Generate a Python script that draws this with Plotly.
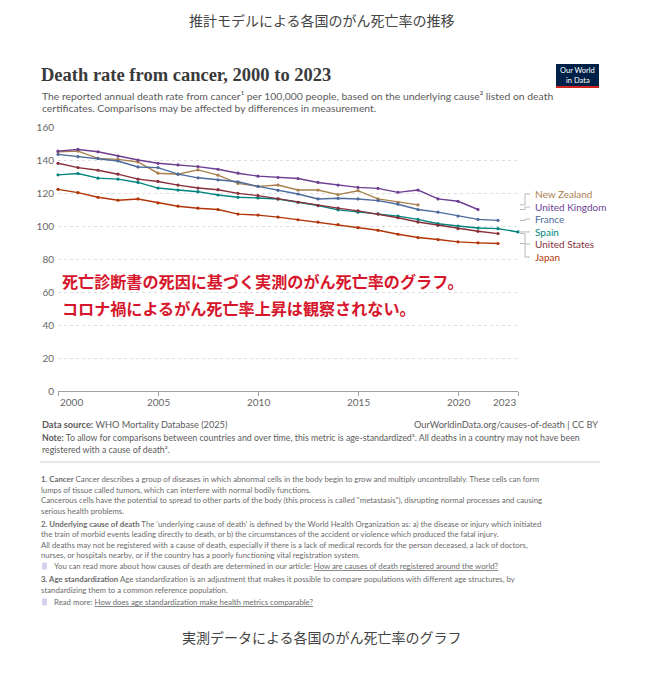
import plotly.graph_objects as go

# ---------------- data ----------------
years = list(range(2000, 2024))

countries = ["New Zealand", "United Kingdom", "France", "Spain", "United States", "Japan"]

new_zealand = [145.0, 145.4, 141.0, 140.4, 138.8, 132.0, 131.4, 134.0, 130.8, 125.8, 124.0, 124.8,
               121.8, 121.8, 119.0, 121.4, 116.4, 114.4, 112.8]
united_kingdom = [145.4, 146.4, 145.0, 142.4, 140.0, 138.0, 137.0, 136.0, 134.4, 132.0, 130.2, 129.4,
                  128.8, 126.4, 124.8, 123.4, 122.8, 120.4, 121.8, 116.4, 115.0, 110.0]
france = [143.4, 142.0, 141.0, 139.4, 135.8, 135.4, 131.4, 129.2, 128.0, 126.8, 124.0, 121.6,
          119.4, 116.4, 116.8, 116.4, 115.4, 113.2, 110.0, 108.4, 106.0, 104.0, 103.4]
spain = [131.0, 131.8, 129.0, 128.4, 126.4, 123.0, 121.8, 120.8, 118.8, 117.4, 117.0, 116.4,
         114.4, 112.4, 109.8, 108.4, 107.4, 106.0, 104.0, 101.4, 100.0, 98.8, 98.4, 96.4]
united_states = [138.0, 135.4, 133.8, 131.4, 128.4, 127.0, 124.8, 123.0, 122.0, 119.8, 118.4, 116.4,
                 114.4, 112.4, 110.8, 109.2, 107.2, 105.0, 102.4, 100.4, 98.4, 96.8, 95.4]
japan = [122.2, 120.2, 117.4, 115.6, 116.4, 114.0, 112.0, 110.8, 110.0, 107.2, 106.6, 105.4,
         103.8, 102.4, 100.8, 99.0, 97.4, 95.0, 93.0, 91.8, 90.4, 89.8, 89.4]

series = [new_zealand, united_kingdom, france, spain, united_states, japan]

x_tick_values = [2000, 2005, 2010, 2015, 2020, 2023]
x_tick_labels = ["2000", "2005", "2010", "2015", "2020", "2023"]
y_tick_values = [0, 20, 40, 60, 80, 100, 120, 140, 160]
y_tick_labels = ["0", "20", "40", "60", "80", "100", "120", "140", "160"]

# ---------------- styles / layout positions ----------------
colors = ["#A8814F", "#6D3E91", "#4C6A9C", "#00847E", "#883039", "#B13507"]
label_y = [119.4, 111.5, 104.2, 96.4, 89.1, 81.2]  # legend label placement (axis units)

OFF = 8  # page body margin offset
W, H = 645 - OFF, 680 - OFF
L, R, T, B = 58, 518, 127, 391  # in window pixels


def px(x, y):
    return (x - L) / (R - L), (B - y) / (B - T)


fig = go.Figure()
for name, vals, col in zip(countries, series, colors):
    fig.add_trace(go.Scatter(
        x=years[:len(vals)], y=vals, mode="lines+markers", name=name,
        line=dict(color=col, width=1.4), marker=dict(color=col, size=3.2),
        cliponaxis=False, showlegend=False,
    ))

ann = []
shapes = []

# legend labels + connectors
for name, vals, col, ly in zip(countries, series, colors, label_y):
    ann.append(dict(xref="paper", yref="y", x=px(533, 0)[0], y=ly, text=name,
                    showarrow=False, xanchor="left", yanchor="middle",
                    font=dict(family="Lato", size=10, color=col)))
    x0 = px(520, 0)[0]
    x1 = px(525, 0)[0]
    x2 = px(530, 0)[0]
    shapes.append(dict(type="path", xref="paper", yref="y",
                       path=f"M {x0} {vals[-1]} L {x1} {vals[-1]} L {x1} {ly} L {x2} {ly}",
                       line=dict(color="#b8b8b8", width=1)))

# x tick labels
for i, (tv, tl) in enumerate(zip(x_tick_values, x_tick_labels)):
    anchor = "left" if i == 0 else ("right" if i == len(x_tick_values) - 1 else "center")
    ann.append(dict(xref="x", yref="paper", x=tv, y=px(0, 402)[1], text=tl, showarrow=False,
                    xanchor=anchor, yanchor="middle",
                    font=dict(family="Lato", size=10, color="#666666")))


def text(x, y, s, size, color, family="Lato", xanchor="left"):
    xp, yp = px(x, y)
    ann.append(dict(xref="paper", yref="paper", x=xp, y=yp, text=s, showarrow=False,
                    xanchor=xanchor, yanchor="middle", align="left",
                    font=dict(family=family, size=size, color=color)))


JP = "Noto Sans CJK JP"
text(322, 20, "推計モデルによる各国のがん死亡率の推移", 14, "#444444", JP, "center")
text(322, 637, "実測データによる各国のがん死亡率のグラフ", 14, "#444444", JP, "center")

text(39, 75, "<b>Death rate from cancer, 2000 to 2023</b>", 18.5, "#3a3a3a", "Liberation Serif")
text(40, 96, "The reported annual death rate from cancer¹ per 100,000 people, based on the underlying cause² listed on death", 10.4, "#5b5b5b")
text(40, 108, "certificates. Comparisons may be affected by differences in measurement.", 10.4, "#5b5b5b")

# logo
lx0, ly0 = px(556, 64)
lx1, ly1 = px(599, 88)
shapes.append(dict(type="rect", xref="paper", yref="paper", x0=lx0, x1=lx1, y0=ly1, y1=ly0,
                   fillcolor="#002147", line=dict(width=0)))
rx0, ry0 = px(556, 86)
shapes.append(dict(type="rect", xref="paper", yref="paper", x0=lx0, x1=lx1, y0=ly1, y1=ry0,
                   fillcolor="#ce261e", line=dict(width=0)))
text(577.5, 71, "Our World", 7.5, "#ffffff", "Lato", "center")
text(577.5, 80, "in Data", 7.5, "#ffffff", "Lato", "center")

# red overlay message
text(60, 281, "<b>死亡診断書の死因に基づく実測のがん死亡率のグラフ。</b>", 16.1, "#d6162b", JP)
text(60, 308, "<b>コロナ禍によるがん死亡率上昇は観察されない。</b>", 16.1, "#d6162b", JP)

# source / note
text(40, 424, "<b>Data source:</b> WHO Mortality Database (2025)", 9.2, "#5b5b5b")
text(600, 424, "OurWorldinData.org/causes-of-death | CC BY", 9.2, "#5b5b5b", "Lato", "right")
text(40, 437.5, "<b>Note:</b> To allow for comparisons between countries and over time, this metric is age-standardized³. All deaths in a country may not have been", 8.8, "#5b5b5b")
text(40, 449, "registered with a cause of death².", 8.8, "#5b5b5b")

# separator
sx0, sy = px(40, 462)
sx1, _ = px(600, 462)
shapes.append(dict(type="line", xref="paper", yref="paper", x0=sx0, x1=sx1, y0=sy, y1=sy,
                   line=dict(color="#e6e6e6", width=2)))

FN = "#6b6b6b"
fn_lines = [
    (479, "<b>1. Cancer</b> Cancer describes a group of diseases in which abnormal cells in the body begin to grow and multiply uncontrollably. These cells can form"),
    (490, "lumps of tissue called tumors, which can interfere with normal bodily functions."),
    (500, "Cancerous cells have the potential to spread to other parts of the body (this process is called \"metastasis\"), disrupting normal processes and causing"),
    (511, "serious health problems."),
    (524, "<b>2. Underlying cause of death</b> The 'underlying cause of death' is defined by the World Health Organization as: a) the disease or injury which initiated"),
    (534, "the train of morbid events leading directly to death, or b) the circumstances of the accident or violence which produced the fatal injury."),
    (545, "All deaths may not be registered with a cause of death, especially if there is a lack of medical records for the person deceased, a lack of doctors,"),
    (555, "nurses, or hospitals nearby, or if the country has a poorly functioning vital registration system."),
    (579, "<b>3. Age standardization</b> Age standardization is an adjustment that makes it possible to compare populations with different age structures, by"),
    (590, "standardizing them to a common reference population."),
]
for yy, s in fn_lines:
    text(39, yy, s, 7.8, FN)
text(52, 566, "You can read more about how causes of death are determined in our article: <u>How are causes of death registered around the world?</u>", 7.8, FN)
text(52, 602, "Read more: <u>How does age standardization make health metrics comparable?</u>", 7.8, FN)
for yy in (566, 602):
    ix0, iy0 = px(42, yy - 3.5)
    ix1, iy1 = px(47, yy + 3.5)
    shapes.append(dict(type="rect", xref="paper", yref="paper", x0=ix0, x1=ix1, y0=iy1, y1=iy0,
                       fillcolor="#d6d1ee", line=dict(width=0)))

fig.update_layout(
    width=W, height=H,
    margin=dict(l=L - OFF, r=(W + OFF) - R, t=T - OFF, b=(H + OFF) - B, pad=0),
    paper_bgcolor="white", plot_bgcolor="white",
    annotations=ann, shapes=shapes,
    xaxis=dict(range=[2000, 2023], tickvals=x_tick_values, showticklabels=False,
               showgrid=False, zeroline=False, showline=True, linecolor="#a0a0a0", linewidth=1,
               ticks="outside", ticklen=4, tickcolor="#a0a0a0"),
    yaxis=dict(range=[0, 160], tickvals=y_tick_values, ticktext=y_tick_labels,
               showgrid=True, gridcolor="#dddddd", griddash="dot", gridwidth=1,
               zeroline=False, showline=False, ticks="",
               tickfont=dict(family="Lato", size=10, color="#666666"), ticklabelstandoff=3),
)

fig.write_html("out.html")
